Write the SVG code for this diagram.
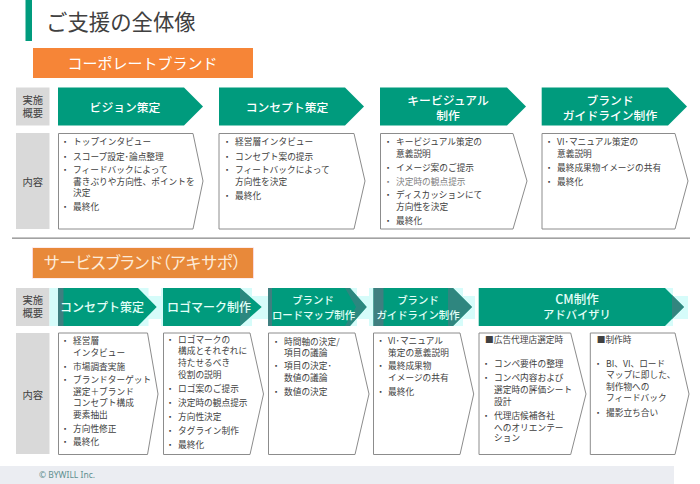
<svg xmlns="http://www.w3.org/2000/svg" width="700" height="484" viewBox="0 0 700 484">
<style>
text{font-family:"Noto Sans CJK JP","Noto Sans",sans-serif}
.lab{fill:#d9d9d9}
.labt{font-size:10.3px;fill:#404040;text-anchor:middle}
.arr{fill:#009b7d}
.arrt{font-size:11.8px;fill:#fff;text-anchor:middle;font-weight:500}
.arrs{font-size:12px;fill:#e4fff8;text-anchor:middle;font-weight:500}
.arrn{font-size:10.400px;fill:#e4fff8;text-anchor:middle;font-weight:500}
.box{fill:#fff;stroke:#8c8c8c;stroke-width:1}
.b{font-size:8.7px;fill:#404040}
.g{fill:#7f7f7f}
.halo{fill:#d6fcfa}
.dark{fill:#3f7f80}
.or{font-size:15px;fill:#fff;text-anchor:middle}
</style>
<g id="title">
<rect x="25.5" y="0" width="6.5" height="41" fill="#009b7d"/>
<text x="46" y="30" font-size="21.4" fill="#404040">ご支援の全体像</text>
</g>
<g id="corporate-heading">
<rect x="33" y="48" width="220" height="30" fill="#f68537"/>
<text class="or" x="142.500" y="68.500">コーポレートブランド</text>
</g>
<g id="corp-label-1"><rect class="lab" x="16" y="87.500" width="33.500" height="38"/><text class="labt" x="32.800" y="104">実施</text><text class="labt" x="32.800" y="117">概要</text></g>
<g id="corp-label-2"><rect class="lab" x="16" y="133" width="33.500" height="96"/><text class="labt" x="32.800" y="186">内容</text></g>
<g id="corp-arrow-1"><polygon class="arr" points="58,87.500 184,87.500 203,106.500 184,125.500 58,125.500"/><text class="arrt" x="125" y="112">ビジョン策定</text></g>
<g id="corp-arrow-2"><polygon class="arr" points="219,87.500 345,87.500 364,106.500 345,125.500 219,125.500"/><text class="arrt" x="287" y="112">コンセプト策定</text></g>
<g id="corp-arrow-3"><polygon class="arr" points="380,87.500 507,87.500 526,106.500 507,125.500 380,125.500"/><text class="arrt" x="448" y="104.500">キービジュアル</text><text class="arrt" x="448" y="120">制作</text></g>
<g id="corp-arrow-4"><polygon class="arr" points="541.700,87.500 668,87.500 687,106.500 668,125.500 541.700,125.500"/><text class="arrt" x="610" y="104.500">ブランド</text><text class="arrt" x="610" y="120">ガイドライン制作</text></g>
<g id="corp-box-1"><polygon class="box" points="58.500,133.500 193,133.500 203,181 193,229 58.500,229"/>
<text class="b" x="60.700" y="145.300">・</text><text class="b" x="73" y="145.300">トップインタビュー</text>
<text class="b" x="60.700" y="159.700">・</text><text class="b" x="73" y="159.700">スコープ設定･論点整理</text>
<text class="b" x="60.700" y="173">・</text><text class="b" x="73" y="173">フィードバックによって</text>
<text class="b" x="73" y="184.700">書きぶりや方向性、ポイントを</text>
<text class="b" x="73" y="196">決定</text>
<text class="b" x="60.700" y="210.300">・</text><text class="b" x="73" y="210.300">最終化</text></g>
<g id="corp-box-2"><polygon class="box" points="219,133.500 354,133.500 365,181 354,229 219,229"/>
<text class="b" x="222.700" y="145.300">・</text><text class="b" x="235" y="145.300">経営層インタビュー</text>
<text class="b" x="222.700" y="159.700">・</text><text class="b" x="235" y="159.700">コンセプト案の提示</text>
<text class="b" x="222.700" y="172.500">・</text><text class="b" x="235" y="172.500">フィートバックによって</text>
<text class="b" x="235" y="184.700">方向性を決定</text>
<text class="b" x="222.700" y="199">・</text><text class="b" x="235" y="199">最終化</text></g>
<g id="corp-box-3"><polygon class="box" points="380.500,133.500 513,133.500 527,181 513,229 380.500,229"/>
<text class="b" x="383.700" y="145.300">・</text><text class="b" x="396" y="145.300">キービジュアル策定の</text>
<text class="b" x="396" y="157">意義説明</text>
<text class="b" x="383.700" y="170.700">・</text><text class="b" x="396" y="170.700">イメージ案のご提示</text>
<text class="b g" x="383.700" y="184.700">・</text><text class="b g" x="396" y="184.700">決定時の観点提示</text>
<text class="b" x="383.700" y="198">・</text><text class="b" x="396" y="198">ディスカッションにて</text>
<text class="b" x="396" y="210">方向性を決定</text>
<text class="b" x="383.700" y="224.300">・</text><text class="b" x="396" y="224.300">最終化</text></g>
<g id="corp-box-4"><polygon class="box" points="542,133.500 675,133.500 688,181 675,229 542,229"/>
<text class="b" x="544.700" y="145.300">・</text><text class="b" x="557" y="145.300">VI･マニュアル策定の</text>
<text class="b" x="557" y="157">意義説明</text>
<text class="b" x="544.700" y="170.700">・</text><text class="b" x="557" y="170.700">最終成果物イメージの共有</text>
<text class="b" x="544.700" y="184.700">・</text><text class="b" x="557" y="184.700">最終化</text></g>
<rect id="divider" x="12" y="237.500" width="678" height="1.300" fill="#8c8c8c"/>
<g id="service-heading">
<rect x="32" y="247.500" width="222" height="31" fill="#fbd9dc"/>
<rect x="33" y="248" width="220" height="30" fill="#e8893a"/>
<text class="or" x="142.500" y="268.500" style="font-size:16.500px;fill:#fdebd8;font-feature-settings:'palt'">サービスブランド（アキサポ）</text>
</g>
<g id="svc-label-1"><rect class="lab" x="16" y="288" width="33.500" height="38"/><text class="labt" x="32.800" y="304">実施</text><text class="labt" x="32.800" y="317">概要</text></g>
<g id="svc-label-2"><rect class="lab" x="16" y="333" width="33.500" height="121"/><text class="labt" x="32.800" y="399">内容</text></g>
<g id="svc-arrow-1"><rect class="halo" x="49.500" y="288" width="99" height="38"/><rect class="halo" x="148" y="296" width="13" height="23"/><polygon class="arr" points="58,288 138,288 156.700,307 138,326 58,326"/><rect class="dark" x="58" y="288" width="5.500" height="38"/><text class="arrs" x="102" y="312">コンセプト策定</text></g>
<g id="svc-arrow-2"><rect class="halo" x="161" y="288" width="91" height="38"/><rect class="halo" x="252" y="296" width="13" height="23"/><polygon class="arr" points="163,288 240,288 261.700,307 240,326 163,326"/><polygon class="dark" points="240,288 250,297 250,317 240,326" opacity=".7"/><text class="arrs" x="209" y="312">ロゴマーク制作</text></g>
<g id="svc-arrow-3"><rect class="halo" x="265" y="296" width="5" height="23"/><rect class="halo" x="345" y="288" width="12" height="38"/><rect class="halo" x="357" y="296" width="16" height="23"/><polygon class="arr" points="268,288 350,288 366.700,307 350,326 268,326"/><rect class="dark" x="268" y="288" width="4" height="38"/><polygon class="dark" points="350,288 366.700,307 350,326 345,326 356,307 345,288" opacity=".7"/><text class="arrn" x="313" y="304">ブランド</text><text class="arrn" x="313.500" y="319">ロードマップ制作</text></g>
<g id="svc-arrow-4"><rect class="halo" x="369" y="288" width="94" height="38"/><rect class="halo" x="463" y="296" width="12" height="23"/><polygon class="arr" points="373.500,288 453,288 472,307 453,326 373.500,326"/><rect class="dark" x="373.500" y="288" width="10" height="38"/><polygon class="dark" points="448,288 453,288 472,307 453,326 448,326" opacity=".75"/><text class="arrn" x="418" y="304">ブランド</text><text class="arrn" x="418" y="319">ガイドライン制作</text></g>
<g id="svc-arrow-5"><rect class="halo" x="660" y="288" width="13" height="38"/><rect class="halo" x="673" y="296" width="15" height="23"/><polygon class="arr" points="478.700,288 665,288 684,307 665,326 478.700,326"/><polygon class="dark" points="672,295 684,307 672,319" opacity=".8"/><text class="arrs" x="577" y="304" style="font-size:12.500px">CM制作</text><text class="arrs" x="577" y="319" style="font-size:11.300px">アドバイザリ</text></g>
<g id="svc-box-1"><polygon class="box" points="58.500,333 147.500,333 158,394 147.500,454.500 58.500,454.500"/>
<text class="b" x="60.700" y="344">・</text><text class="b" x="73" y="344">経営層</text>
<text class="b" x="73" y="355.700">インタビュー</text>
<text class="b" x="60.700" y="370">・</text><text class="b" x="73" y="370">市場調査実施</text>
<text class="b" x="60.700" y="383">・</text><text class="b" x="73" y="383">ブランドターゲット</text>
<text class="b" x="73" y="394.700">選定＋ブランド</text>
<text class="b" x="73" y="406.300">コンセプト構成</text>
<text class="b" x="73" y="418">要素抽出</text>
<text class="b" x="60.700" y="431.700">・</text><text class="b" x="73" y="431.700">方向性修正</text>
<text class="b" x="60.700" y="445">・</text><text class="b" x="73" y="445">最終化</text></g>
<g id="svc-box-2"><polygon class="box" points="163.500,333 250,333 263.500,394 250,454.500 163.500,454.500"/>
<text class="b" x="165.700" y="343">・</text><text class="b" x="178" y="343">ロゴマークの</text>
<text class="b" x="178" y="354">構成とそれぞれに</text>
<text class="b" x="178" y="365.700">持たせるべき</text>
<text class="b" x="178" y="377.700">役割の説明</text>
<text class="b" x="165.700" y="392.300">・</text><text class="b" x="178" y="392.300">ロゴ案のご提示</text>
<text class="b" x="165.700" y="406">・</text><text class="b" x="178" y="406">決定時の観点提示</text>
<text class="b" x="165.700" y="420">・</text><text class="b" x="178" y="420">方向性決定</text>
<text class="b" x="165.700" y="433.700">・</text><text class="b" x="178" y="433.700">タグライン制作</text>
<text class="b" x="165.700" y="448">・</text><text class="b" x="178" y="448">最終化</text></g>
<g id="svc-box-3"><polygon class="box" points="268.500,333 355,333 369,394 355,454.500 268.500,454.500"/>
<text class="b" x="271.700" y="344.700">・</text><text class="b" x="284" y="344.700">時間軸の決定/</text>
<text class="b" x="284" y="356">項目の議論</text>
<text class="b" x="271.700" y="369.300">・</text><text class="b" x="284" y="369.300">項目の決定･</text>
<text class="b" x="284" y="380.700">数値の議論</text>
<text class="b" x="271.700" y="395">・</text><text class="b" x="284" y="395">数値の決定</text></g>
<g id="svc-box-4"><polygon class="box" points="373.500,333 460,333 473.700,394 460,454.500 373.500,454.500"/>
<text class="b" x="376.300" y="344.300">・</text><text class="b" x="388" y="344.300">VI･マニュアル</text>
<text class="b" x="388" y="356">策定の意義説明</text>
<text class="b" x="376.300" y="369.300">・</text><text class="b" x="388" y="369.300">最終成果物</text>
<text class="b" x="388" y="380.700">イメージの共有</text>
<text class="b" x="376.300" y="395">・</text><text class="b" x="388" y="395">最終化</text></g>
<g id="svc-box-5"><polygon class="box" points="479,333 570.700,333 586,394 570.700,454.500 479,454.500"/>
<text class="b" x="485" y="343">■広告代理店選定時</text>
<text class="b" x="481.700" y="367.300">・</text><text class="b" x="494" y="367.300">コンペ要件の整理</text>
<text class="b" x="481.700" y="381">・</text><text class="b" x="494" y="381">コンペ内容および</text>
<text class="b" x="494" y="392.700">選定時の評価シート</text>
<text class="b" x="494" y="404.700">設計</text>
<text class="b" x="481.700" y="418.700">・</text><text class="b" x="494" y="418.700">代理店候補各社</text>
<text class="b" x="494" y="430.700">へのオリエンテー</text>
<text class="b" x="494" y="441">ション</text></g>
<g id="svc-box-6"><polygon class="box" points="590.300,333 675,333 689,394 675,454.500 590.300,454.500"/>
<text class="b" x="596.700" y="343">■制作時</text>
<text class="b" x="593.700" y="367.300">・</text><text class="b" x="606" y="367.300">BI、VI、ロード</text>
<text class="b" x="606" y="378.300">マップに即した、</text>
<text class="b" x="606" y="390">制作物への</text>
<text class="b" x="606" y="401.300">フィードバック</text>
<text class="b" x="593.700" y="415.700">・</text><text class="b" x="606" y="415.700">撮影立ち合い</text></g>
<g id="footer"><rect x="0" y="466" width="674" height="18" fill="#ebedf2"/><text x="39" y="478" font-size="8.500" fill="#5f8f8f" style="font-family:'Noto Sans',sans-serif">© BYWILL Inc.</text></g>
</svg>
